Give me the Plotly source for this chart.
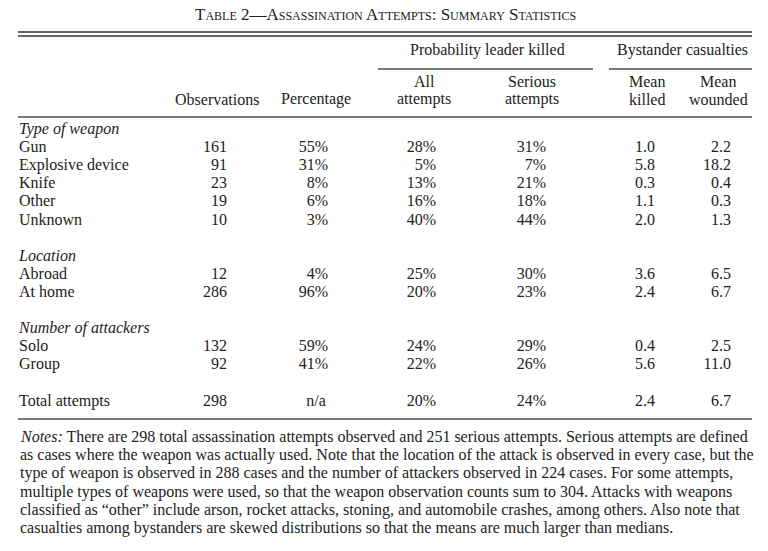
import plotly.graph_objects as go

title = "Table 2—Assassination Attempts: Summary Statistics"
group_headers = ["Probability leader killed", "Bystander casualties"]
column_headers = [["", "Observations"], ["", "Percentage"], ["All", "attempts"],
                  ["Serious", "attempts"], ["Mean", "killed"], ["Mean", "wounded"]]

section_titles = ["Type of weapon", "Location", "Number of attackers"]
section_rows = [["Gun", "Explosive device", "Knife", "Other", "Unknown"],
                ["Abroad", "At home"],
                ["Solo", "Group"]]
total_label = "Total attempts"

observations = [161, 91, 23, 19, 10, 12, 286, 132, 92, 298]
percentage = [55, 31, 8, 6, 3, 4, 96, 59, 41, None]
prob_all = [28, 5, 13, 16, 40, 25, 20, 24, 22, 20]
prob_serious = [31, 7, 21, 18, 44, 30, 23, 29, 26, 24]
mean_killed = [1.0, 5.8, 0.3, 1.1, 2.0, 3.6, 2.4, 0.4, 5.6, 2.4]
mean_wounded = [2.2, 18.2, 0.4, 0.3, 1.3, 6.5, 6.7, 2.5, 11.0, 6.7]

notes = [
    "<i>Notes:</i> There are 298 total assassination attempts observed and 251 serious attempts. Serious attempts are defined",
    "as cases where the weapon was actually used. Note that the location of the attack is observed in every case, but the",
    "type of weapon is observed in 288 cases and the number of attackers observed in 224 cases. For some attempts,",
    "multiple types of weapons were used, so that the weapon observation counts sum to 304. Attacks with weapons",
    "classified as \u201cother\u201d include arson, rocket attacks, stoning, and automobile crashes, among others. Also note that",
    "casualties among bystanders are skewed distributions so that the means are much larger than medians.",
]

FONT = "Liberation Serif"
INK = "#222222"
SIZE = 16

# the page body has an 8px margin, so the axes are set up so that
# one unit is one pixel of the browser window
PAGE_W, PAGE_H, BODY = 768, 551, 8

left, right = 18, 752
col_right = [227, 328, 436, 546, 655, 731]
col_center = [217, 316, 424, 532, 647, 718]
group_span = [(378, 593), (609, 752)]
first_row_y, row_step = 130, 18.1

label_y, label_text = [], []
data_y = []
slot = 0
for name, rows in zip(section_titles, section_rows):
    label_y.append(first_row_y + slot * row_step)
    label_text.append("<i>" + name + "</i>")
    slot += 1
    for r in rows:
        y = first_row_y + slot * row_step
        label_y.append(y)
        label_text.append(r)
        data_y.append(y)
        slot += 1
    slot += 1
total_y = first_row_y + slot * row_step
label_y.append(total_y)
label_text.append(total_label)
data_y.append(total_y)

columns = [
    [str(v) for v in observations],
    ["n/a" if v is None else f"{v}%" for v in percentage],
    [f"{v}%" for v in prob_all],
    [f"{v}%" for v in prob_serious],
    [f"{v:.1f}" for v in mean_killed],
    [f"{v:.1f}" for v in mean_wounded],
]

fig = go.Figure()

fig.add_trace(go.Scatter(
    x=[left + 1] * len(label_y), y=label_y, text=label_text,
    mode="text", textposition="middle right",
    textfont=dict(family=FONT, size=SIZE, color=INK),
    hoverinfo="skip", showlegend=False,
))

for i, col in enumerate(columns):
    xs = [col_center[i] if t == "n/a" else col_right[i] for t in col]
    pos = ["middle center" if t == "n/a" else "middle left" for t in col]
    fig.add_trace(go.Scatter(
        x=xs, y=data_y, text=col,
        mode="text", textposition=pos,
        textfont=dict(family=FONT, size=SIZE, color=INK),
        hoverinfo="skip", showlegend=False,
    ))

annotations = [dict(
    x=385, y=14, text=title, showarrow=False, xanchor="center", yanchor="middle",
    font=dict(family=FONT, size=17, color=INK, variant="small-caps"),
)]
for (x0, x1), name in zip(group_span, group_headers):
    annotations.append(dict(
        x=(x0 + x1) / 2 + 2, y=50, text=name, showarrow=False,
        xanchor="center", yanchor="middle",
        font=dict(family=FONT, size=SIZE, color=INK),
    ))
for cx, (top, bottom) in zip(col_center, column_headers):
    for y, t in ((81, top), (99, bottom)):
        if t:
            annotations.append(dict(
                x=cx, y=y, text=t, showarrow=False,
                xanchor="center", yanchor="middle",
                font=dict(family=FONT, size=SIZE, color=INK),
            ))
for i, line in enumerate(notes):
    annotations.append(dict(
        x=left, y=437 + i * 18.2, text=line, showarrow=False,
        xanchor="left", yanchor="middle",
        font=dict(family=FONT, size=SIZE, color=INK),
    ))

shapes = [
    dict(type="line", x0=left, x1=right, y0=32, y1=32, line=dict(color="#333333", width=1.5)),
    dict(type="line", x0=left, x1=right, y0=36, y1=36, line=dict(color="#333333", width=1.5)),
    dict(type="line", x0=left, x1=right, y0=117, y1=117, line=dict(color="#777777", width=2)),
    dict(type="line", x0=left, x1=right, y0=419, y1=419, line=dict(color="#777777", width=2)),
]
for x0, x1 in group_span:
    shapes.append(dict(type="line", x0=x0, x1=x1, y0=69, y1=69, line=dict(color="#777777", width=2)))
for s in shapes:
    s.update(xref="x", yref="y")

fig.update_layout(
    width=PAGE_W - BODY, height=PAGE_H - BODY,
    margin=dict(l=0, r=0, t=0, b=0),
    paper_bgcolor="white", plot_bgcolor="white",
    xaxis=dict(range=[BODY, PAGE_W], visible=False, fixedrange=True),
    yaxis=dict(range=[PAGE_H, BODY], visible=False, fixedrange=True),
    annotations=annotations,
    shapes=shapes,
)

fig.write_html("out.html")
